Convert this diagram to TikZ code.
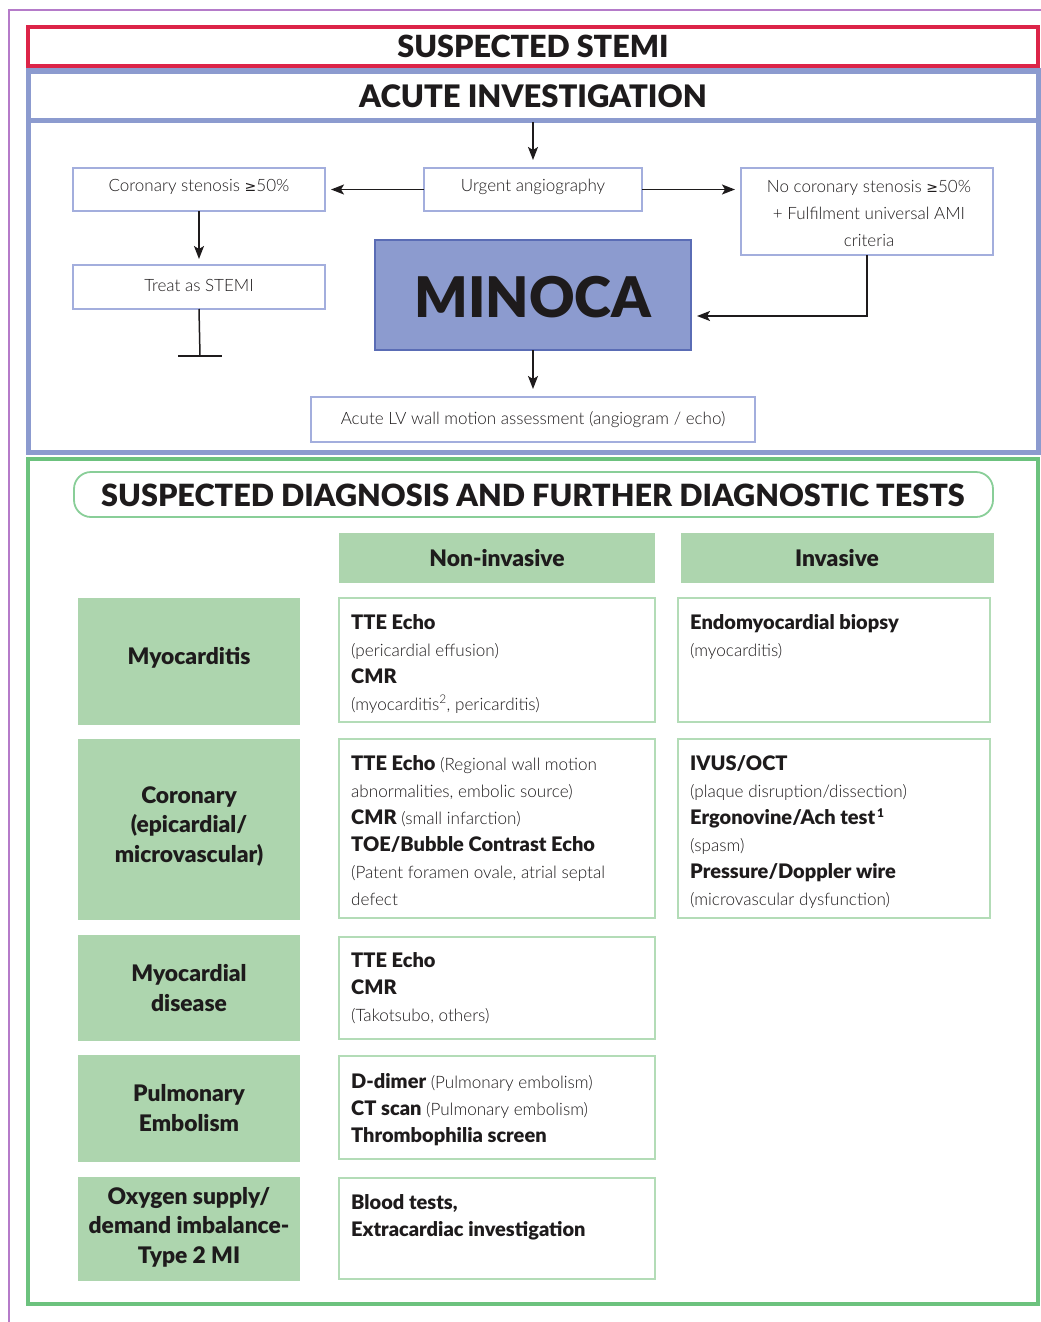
\documentclass[tikz,border=0pt]{standalone}
\usepackage{fontspec}
\setmainfont{Lato}
\newfontfamily\heavy{Lato Black}
\newfontfamily\lightf{Lato Light}
\newfontfamily\symf{DejaVu Sans}
\usetikzlibrary{arrows.meta}
\definecolor{stemired}{HTML}{DC2448}
\definecolor{invblue}{HTML}{8C9BCF}
\definecolor{minoedge}{HTML}{5A6CB5}
\definecolor{smallblue}{HTML}{A3AEDD}
\definecolor{frgreen}{HTML}{6CC27E}
\definecolor{cellgreen}{HTML}{ADD5AE}
\definecolor{boxgreen}{HTML}{B3DCB7}
\definecolor{txt}{HTML}{1E1B1C}
\definecolor{outerpurple}{HTML}{B57BC9}
\newcommand{\geqsym}{{\symf\fontsize{14}{14}\selectfont ≥}}
\newcommand{\bt}[1]{{\heavy\fontsize{20}{27}\selectfont #1}}
\begin{document}
\begin{tikzpicture}[x=1pt,y=-1pt,
  rectnode/.style={anchor=north west, inner sep=0pt, outer sep=0pt},
  smallbox/.style={rectnode, draw=smallblue, line width=1.3pt, fill=white},
  smalltxt/.style={text=txt, font=\lightf\fontsize{17}{27}\selectfont, align=center},
  gbox/.style={rectnode, draw=boxgreen, line width=1.3pt, fill=white},
  gcell/.style={rectnode, fill=cellgreen, text=txt, font=\heavy\fontsize{22.8}{29.5}\selectfont, align=center},
  body/.style={anchor=north west, inner sep=0pt, text=txt, font=\lightf\fontsize{17.1}{27}\selectfont, align=left},
  hdr/.style={text=txt, font=\heavy\fontsize{22.8}{23}\selectfont},
  arr/.style={draw=txt, line width=1.5pt, -{Stealth[length=13pt,width=10pt,inset=3pt]}},
  plain/.style={draw=txt, line width=1.5pt}
]
\useasboundingbox (0,0) rectangle (1041,1322);
% outer purple frame
\draw[outerpurple, line width=1.2pt] (9,1322) -- (9,10) -- (1041,10);

% ----- red header
\node[rectnode, draw=stemired, line width=4pt, minimum width=1010, minimum height=39] (stemi) at (28,27) {};
\node[text=txt, font=\heavy\fontsize{30.5}{31}\selectfont] (stemiT) at (533,46) {SUSPECTED STEMI};

% ----- blue section
\node[rectnode, draw=invblue, line width=5pt, minimum width=1010, minimum height=381] (acute) at (28,71) {};
\draw[invblue, line width=5pt] (28,120) -- (1038,120);
\node[text=txt, font=\heavy\fontsize{31}{31}\selectfont] (acuteT) at (533,96) {ACUTE INVESTIGATION};
\coordinate (hdrbot) at (533,122);

\node[smallbox, minimum width=218, minimum height=43] (urgent) at (424,168) {};
\node[smalltxt] (urgentT) at (533,187) {Urgent angiography};

\node[smallbox, minimum width=252, minimum height=43] (cor) at (73,168) {};
\node[smalltxt] (corT) at (199,187) {Coronary stenosis \geqsym50\%};

\node[smallbox, minimum width=252, minimum height=87] (nocor) at (741,168) {};
\node[smalltxt] (nocorT) at (869,213) {No coronary stenosis \geqsym50\%\\+ Fulfilment universal AMI\\criteria};

\node[smallbox, minimum width=252, minimum height=44] (treat) at (73,265) {};
\node[smalltxt] (treatT) at (199,285) {Treat as STEMI};

\node[rectnode, draw=minoedge, fill=invblue, line width=1.3pt, minimum width=316, minimum height=110] (minoca) at (375,240) {};
\node[text=txt, font=\heavy\fontsize{56}{56}\selectfont] (minocaT) at (533,297) {MINOCA};

\node[smallbox, minimum width=444, minimum height=45] (lv) at (311,397) {};
\node[smalltxt] (lvT) at (533,420) {Acute LV wall motion assessment (angiogram / echo)};

\coordinate (tend) at (200,356);
\coordinate (mtarget) at (691,316);

\draw[arr, shorten >=8pt] (hdrbot) -- (urgent.north);
\draw[arr, shorten >=6pt] (urgent.west |- cor.east) -- (cor.east);
\draw[arr, shorten >=6pt] (urgent.east) -- (urgent.east -| nocor.west);
\draw[arr, shorten >=6pt] (cor.south) -- (treat.north);
\draw[plain] (treat.south) -- (tend);
\draw[plain] ([xshift=-22pt]tend) -- ([xshift=22pt]tend);
\draw[arr, shorten >=6pt] (nocor.south) |- (mtarget);
\draw[arr, shorten >=8pt] (minoca.south) -- (lv.north);

% ----- green section
\node[rectnode, draw=frgreen, line width=4pt, minimum width=1010, minimum height=845] (diag) at (28,459) {};
\node[rectnode, draw=frgreen!80, line width=1.8pt, rounded corners=17pt, minimum width=919, minimum height=45] (dhead) at (74,472) {};
\node[text=txt, font=\heavy\fontsize{30.6}{31}\selectfont] (dheadT) at (533,495) {SUSPECTED DIAGNOSIS AND FURTHER DIAGNOSTIC TESTS};

\node[rectnode, fill=cellgreen, minimum width=316, minimum height=50] (noninv) at (339,533) {};
\node[hdr] (noninvT) at (497,558) {Non-invasive};
\node[rectnode, fill=cellgreen, minimum width=313, minimum height=50] (inv) at (681,533) {};
\node[hdr] (invT) at (837,558) {Invasive};

% left cells
\node[gcell, minimum width=222, minimum height=127] (c1) at (78,598) {};
\node[gcell, anchor=center] (c1T) at (189,658) {Myocarditis};
\node[gcell, minimum width=222, minimum height=181] (c2) at (78,739) {};
\node[gcell, anchor=center] (c2T) at (189,826) {Coronary\\(epicardial/\\microvascular)};
\node[gcell, minimum width=222, minimum height=106] (c3) at (78,935) {};
\node[gcell, anchor=center] (c3T) at (189,988) {Myocardial\\disease};
\node[gcell, minimum width=222, minimum height=107] (c4) at (78,1055) {};
\node[gcell, anchor=center] (c4T) at (189,1108) {Pulmonary\\Embolism};
\node[gcell, minimum width=222, minimum height=104] (c5) at (78,1177) {};
\node[gcell, anchor=center] (c5T) at (189,1227) {Oxygen supply/\\demand imbalance-\\Type 2 MI};

% non-invasive boxes
\node[gbox, minimum width=316, minimum height=124] (n1) at (339,598) {};
\node[body] (n1T) at (351,614) {\bt{TTE Echo}\\(pericardial effusion)\\\bt{CMR}\\(myocarditis\textsuperscript{2}, pericarditis)};
\node[gbox, minimum width=316, minimum height=179] (n2) at (339,739) {};
\node[body] (n2T) at (351,755) {\bt{TTE Echo} (Regional wall motion\\abnormalities, embolic source)\\\bt{CMR} (small infarction)\\\bt{TOE/Bubble Contrast Echo}\\(Patent foramen ovale, atrial septal\\defect};
\node[gbox, minimum width=316, minimum height=102] (n3) at (339,937) {};
\node[body] (n3T) at (351,952) {\bt{TTE Echo}\\\bt{CMR}\\(Takotsubo, others)};
\node[gbox, minimum width=316, minimum height=103] (n4) at (339,1056) {};
\node[body] (n4T) at (351,1073) {\bt{D-dimer} (Pulmonary embolism)\\\bt{CT scan} (Pulmonary embolism)\\\bt{Thrombophilia screen}};
\node[gbox, minimum width=316, minimum height=101] (n5) at (339,1178) {};
\node[body] (n5T) at (351,1194) {\bt{Blood tests,}\\\bt{Extracardiac investigation}};

% invasive boxes
\node[gbox, minimum width=312, minimum height=124] (i1) at (678,598) {};
\node[body] (i1T) at (690,614) {\bt{Endomyocardial biopsy}\\(myocarditis)};
\node[gbox, minimum width=312, minimum height=179] (i2) at (678,739) {};
\node[body] (i2T) at (690,755) {\bt{IVUS/OCT}\\(plaque disruption/dissection)\\\bt{Ergonovine/Ach test}\textsuperscript{\,\heavy 1}\\(spasm)\\\bt{Pressure/Doppler wire}\\(microvascular dysfunction)};
\end{tikzpicture}
\end{document}
